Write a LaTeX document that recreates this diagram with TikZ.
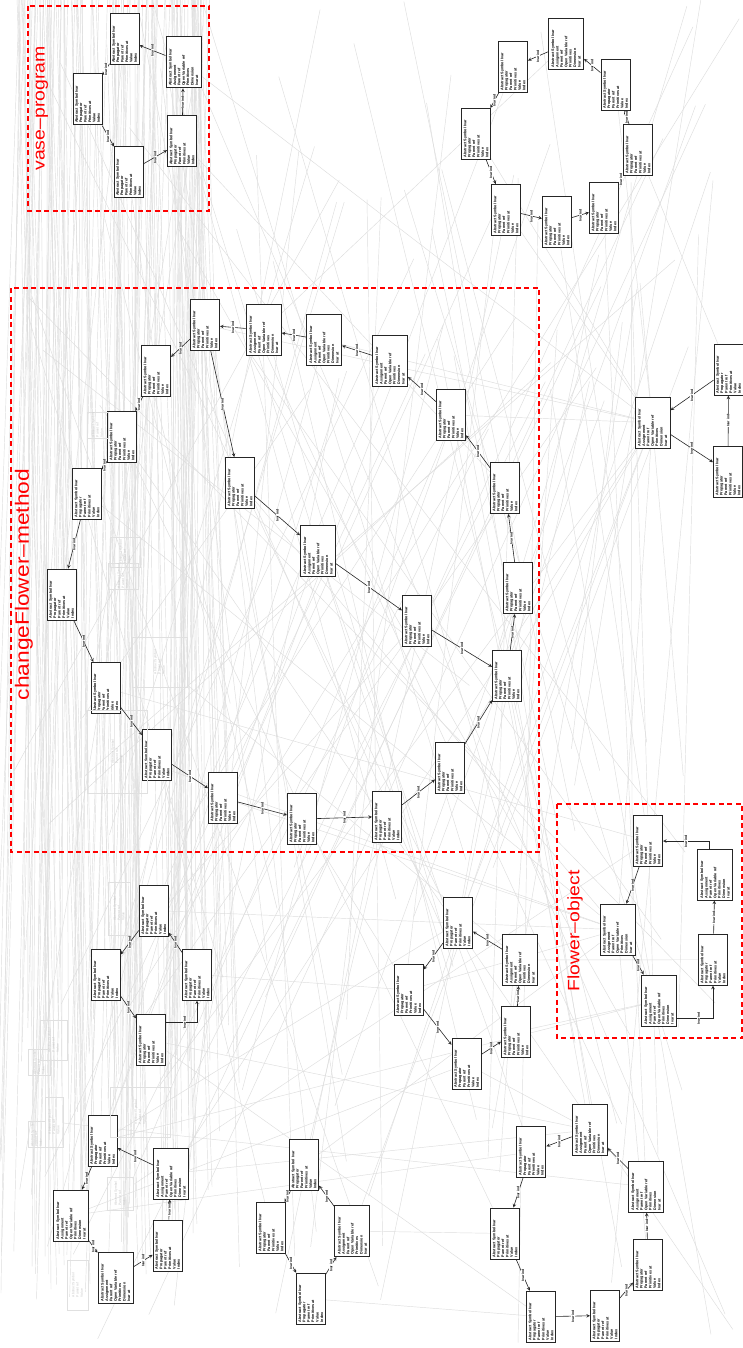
\documentclass[tikz,border=0pt]{standalone}
\usepackage{fontspec}
\newfontfamily\grpfont{Liberation Sans}
\usetikzlibrary{shapes,arrows,positioning,calc,backgrounds}

\newcommand{\objlines}{Abstract Symbol Ivar\\Propagator\\Parent ref\\Primitives at\\Value\\Index}
\newcommand{\objlinesw}{Abstract Symbol Ivar\\Assignment\\Parent ref\\Open Variable ref\\Primitives\\Dimension\\Ivar at}
\newcommand{\ghostlines}{Abstract Symbol\\Parent ref\\Value}

\begin{document}
\begin{tikzpicture}[x=1pt, y=-1pt,
    obj/.style={rectangle, draw=black!85, line width=1pt, fill=white, rotate=90, minimum width=51pt, minimum height=29pt, inner sep=1.2pt, text width=47pt, align=left, font=\grpfont\bfseries\fontsize{3.7}{4.4}\selectfont},
    objw/.style={obj, minimum height=35pt},
    ghost/.style={rectangle, draw=black!12, line width=0.5pt, rotate=90, text=black!22, inner sep=1pt, align=left, font=\grpfont\fontsize{3.3}{4.2}\selectfont},
    elab/.style={rotate=90, fill=white, inner sep=0.4pt, font=\grpfont\bfseries\fontsize{3.4}{3.8}\selectfont},
    rel/.style={draw=black!85, line width=0.6pt, ->, >=stealth},
    bg/.style={draw=black!13, line width=0.45pt},
    group/.style={draw=red, line width=1.6pt, dash pattern=on 5pt off 3.5pt},
    grouplabel/.style={text=red, rotate=90, xscale=1.18, inner sep=0pt, font=\grpfont\fontsize{16.5}{16.5}\selectfont}
]
\useasboundingbox (0,0) rectangle (743,1348);

% vase-program
\node (vp1) [obj] at (124.5,39.5) {\objlines};
\node (vp2) [objw] at (183.5,62.5) {\objlinesw};
\node (vp3) [obj] at (87.5,99.5) {\objlines};
\node (vp4) [obj] at (182,141.5) {\objlines};
\node (vp5) [obj] at (128.5,172.5) {\objlines};

% changeFlower-method
\node (cf1) [obj] at (205,325) {\objlines};
\node (cf2) [objw] at (263.7,330) {\objlinesw};
\node (cf3) [objw] at (324,340) {\objlinesw};
\node (cf4) [objw] at (390,361) {\objlinesw};
\node (cf5) [obj] at (451,415) {\objlines};
\node (cf6) [obj] at (505,488) {\objlines};
\node (cf7) [obj] at (518,588) {\objlines};
\node (cf8) [obj] at (507,676) {\objlines};
\node (cf9) [obj] at (450,768) {\objlines};
\node (cf10) [obj] at (387,816.5) {\objlines};
\node (cf11) [obj] at (302,819) {\objlines};
\node (cf12) [obj] at (223,798) {\objlines};
\node (cf13) [obj] at (157,754.5) {\objlines};
\node (cf14) [obj] at (105.7,688) {\objlines};
\node (cf15) [obj] at (61.5,594.5) {\objlines};
\node (cf16) [obj] at (87,493.7) {\objlines};
\node (cf17) [obj] at (122,437) {\objlines};
\node (cf18) [obj] at (156,371) {\objlines};
\node (cf19) [obj] at (240,483) {\objlines};
\node (cf20) [objw] at (318,551) {\objlinesw};
\node (cf21) [obj] at (417,621) {\objlines};

% top right ring
\node (tr1) [obj] at (513,67) {\objlines};
\node (tr2) [objw] at (566,44) {\objlinesw};
\node (tr3) [obj] at (615.5,85) {\objlines};
\node (tr4) [obj] at (638,150) {\objlines};
\node (tr5) [obj] at (604,208) {\objlines};
\node (tr6) [obj] at (557,222) {\objlines};
\node (tr7) [obj] at (506,210) {\objlines};
\node (tr8) [obj] at (476,134) {\objlines};

% right hub
\node (rm1) [objw] at (652.5,422.7) {\objlinesw};
\node (rm2) [obj] at (728.5,369.7) {\objlines};
\node (rm3) [obj] at (728,472) {\objlines};

% Flower-object
\node (fo1) [obj] at (648,841) {\objlines};
\node (fo2) [objw] at (715,874.5) {\objlinesw};
\node (fo3) [objw] at (617.5,929.7) {\objlinesw};
\node (fo4) [obj] at (713,959.7) {\objlines};
\node (fo5) [objw] at (659,1000.5) {\objlinesw};

% middle left diamond
\node (ml1) [obj] at (153.7,910.5) {\objlines};
\node (ml2) [obj] at (105.7,974.5) {\objlines};
\node (ml3) [obj] at (197,974.5) {\objlines};
\node (ml4) [obj] at (151,1040) {\objlines};

% middle right ring
\node (mr1) [obj] at (458,922.5) {\objlines};
\node (mr2) [objw] at (520,960) {\objlinesw};
\node (mr3) [obj] at (408.7,990) {\objlines};
\node (mr4) [obj] at (516,1032) {\objlines};
\node (mr5) [obj] at (466.5,1064) {\objlines};

% bottom left ring
\node (bl1) [obj] at (102.5,1141) {\objlines};
\node (bl2) [objw] at (171,1173.5) {\objlinesw};
\node (bl3) [objw] at (71,1215.5) {\objlinesw};
\node (bl4) [obj] at (167.6,1245.5) {\objlines};
\node (bl5) [objw] at (115.5,1278) {\objlinesw};

% bottom middle diamond
\node (bm1) [obj] at (304,1165.3) {\objlines};
\node (bm2) [obj] at (271,1228) {\objlines};
\node (bm3) [objw] at (352.4,1231) {\objlinesw};
\node (bm4) [obj] at (310.7,1298.7) {\objlines};

% bottom right ring
\node (br1) [obj] at (531.4,1152) {\objlines};
\node (br2) [objw] at (589.7,1130) {\objlinesw};
\node (br3) [objw] at (646,1186.7) {\objlinesw};
\node (br4) [obj] at (505,1233.5) {\objlines};
\node (br5) [obj] at (648,1265) {\objlines};
\node (br6) [obj] at (541,1316.7) {\objlines};
\node (br7) [obj] at (605,1315.5) {\objlines};

% faded objects on the left
\node (gh1) [ghost, minimum width=24pt, minimum height=21pt] at (97.5,425) {\ghostlines};
\node (gh2) [ghost, minimum width=30pt, minimum height=30pt] at (125,552) {\ghostlines};
\node (gh3) [ghost, minimum width=22pt, minimum height=30pt] at (123,576) {\ghostlines};
\node (gh4) [ghost, minimum width=50pt, minimum height=55pt] at (159.5,662) {\ghostlines};
\node (gh5) [ghost, minimum width=83pt, minimum height=60pt] at (117,751.5) {\ghostlines};
\node (gh6) [ghost, minimum width=53pt, minimum height=22pt] at (119,908.5) {\ghostlines};
\node (gh7) [ghost, minimum width=40pt, minimum height=27pt] at (53.5,1040) {\ghostlines};
\node (gh8) [ghost, minimum width=25pt, minimum height=22pt] at (39,1062.5) {\ghostlines};
\node (gh9) [ghost, minimum width=50pt, minimum height=18pt] at (54,1122) {\ghostlines};
\node (gh10) [ghost, minimum width=50pt, minimum height=60pt] at (140,1112) {\ghostlines};
\node (gh11) [ghost, minimum width=25pt, minimum height=17pt] at (36.5,1134.5) {\ghostlines};
\node (gh12) [ghost, minimum width=33pt, minimum height=26pt] at (120,1193.5) {\ghostlines};
\node (gh13) [ghost, minimum width=50pt, minimum height=21pt] at (77.5,1285) {\ghostlines};

% connectors of the rings
\foreach \a/\b in {vp1/vp3, vp3/vp5, vp5/vp4, vp4/vp2, vp2/vp1,
    cf2/cf1, cf3/cf2, cf4/cf3, cf5/cf4, cf6/cf5, cf7/cf6, cf8/cf7, cf9/cf8, cf10/cf9, cf11/cf10,
    cf12/cf11, cf13/cf12, cf14/cf13, cf15/cf14, cf16/cf15, cf17/cf16, cf18/cf17, cf1/cf18,
    cf1/cf19, cf19/cf20, cf20/cf21, cf21/cf8,
    tr2/tr1, tr1/tr8, tr8/tr7, tr7/tr6, tr6/tr5, tr5/tr4, tr4/tr3, tr3/tr2,
    rm2/rm1, rm1/rm3, rm3/rm2,
    fo1/fo3, fo3/fo5, fo4/fo2,
    ml1/ml2, ml2/ml4, ml3/ml1,
    mr2/mr1, mr1/mr3, mr3/mr5, mr5/mr4, mr4/mr2,
    bl2/bl1, bl1/bl3, bl3/bl5, bl5/bl4, bl4/bl2,
    bm1/bm2, bm2/bm4, bm4/bm3, bm3/bm1,
    br2/br1, br1/br4, br4/br6, br6/br7, br7/br5, br5/br3, br3/br2}
  \draw[rel] (\a) -- node[elab] {Ivar ind} (\b);
\draw[rel] ([xshift=-6pt]fo2.east) |- node[elab, pos=0.75] {Ivar ind} (fo1);
\draw[rel] ([yshift=-17.5pt]fo5.south) -| node[elab, pos=0.3] {Ivar ind} (fo4.west);
\draw[rel] ([yshift=18pt]ml4.south) -| node[elab, pos=0.3] {Ivar ind} (ml3.west);

% groups
\draw[group] (28,6) rectangle (209,211);
\node (vaselabel) [grouplabel] at (42,108.5) {vase–program};
\draw[group] (11,288) rectangle (539,852);
\node (cflabel) [grouplabel, font=\grpfont\fontsize{19.3}{19.3}\selectfont] at (24,584.5) {changeFlower–method};
\draw[group] (557,804) rectangle (742,1038);
\node (folabel) [grouplabel] at (575,931) {Flower–object};

\begin{pgfonlayer}{background}
  \fill[white] (0,0) rectangle (743,1348);
  % dense faded edges on the left
  \pgfmathsetseed{17}
  \foreach \i in {1,...,120}{
    \pgfmathsetmacro{\xt}{15+rnd*195}
    \pgfmathsetmacro{\xb}{\xt+(rnd-0.5)*90}
    \pgfmathsetmacro{\yb}{1000+rnd*300}
    \coordinate (lt\i) at (\xt,-5);
    \coordinate (lb\i) at (\xb,\yb);
    \draw[bg] (lt\i) -- (lb\i);
  }
  % long faded edges
  \foreach \i in {1,...,90}{
    \pgfmathsetmacro{\xa}{rnd*743}
    \pgfmathsetmacro{\ya}{rnd*450-20}
    \pgfmathsetmacro{\xb}{rnd*743}
    \pgfmathsetmacro{\yb}{650+rnd*700}
    \coordinate (fa\i) at (\xa,\ya);
    \coordinate (fb\i) at (\xb,\yb);
    \draw[bg] (fa\i) -- (fb\i);
  }
  % faded edges between objects
  \foreach \a/\b in {rm1/cf1, rm1/cf3, rm1/vp2, rm1/tr7, rm1/tr8, rm1/cf5, rm1/fo3, rm1/mr1, rm1/cf9, rm1/bl2,
      fo3/cf12, fo3/cf16, fo3/ml1, fo3/bm1, fo3/cf19, fo1/cf14, fo1/tr6, fo3/mr3,
      bl1/cf3, bl1/cf20, bl1/tr1, bl1/mr1, bl1/fo5, bl2/br2, bl3/mr5, bl3/br1,
      bm1/cf10, bm3/br4, bm2/cf13, bm4/br6, bm3/rm1,
      ml1/cf4, ml2/cf21, ml3/mr3, ml4/br2,
      mr1/cf7, mr3/cf11, mr5/br2, mr4/fo5, mr2/fo4,
      br1/cf20, br2/cf8, br3/tr5, br4/cf17, br6/ml4, br5/fo3,
      vp1/cf15, vp3/cf16, vp4/cf6, vp5/cf18, tr2/cf2, tr4/rm2, tr3/rm1,
      gh5/fo3, gh10/rm1, gh4/mr2, gh9/br3, gh12/fo1}
    \draw[bg] (\a) -- (\b);
\end{pgfonlayer}

\end{tikzpicture}
\end{document}
